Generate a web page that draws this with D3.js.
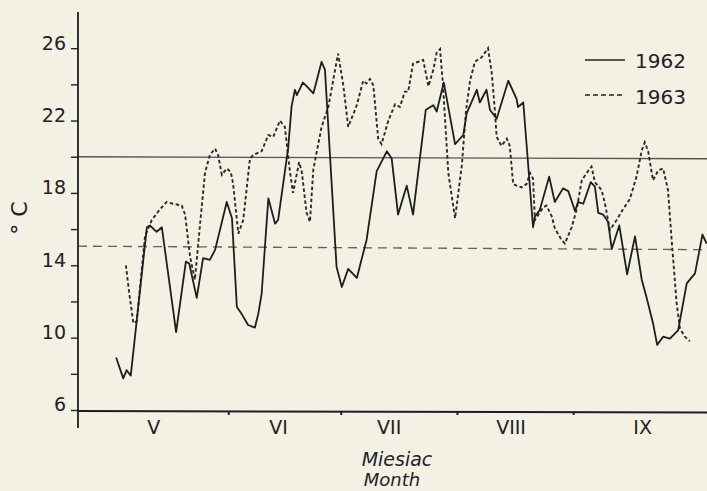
<!DOCTYPE html>
<html>
<head>
<meta charset="utf-8">
<script src="https://cdn.jsdelivr.net/npm/d3@7"></script>
<style>
  body { margin: 0; background: #f3f0e4; }
  svg { display: block; }
  text { font-family: "DejaVu Sans", sans-serif; fill: #222; }
</style>
</head>
<body>
<svg width="707" height="491"></svg>
<script>
// day 0 = 1 May; values in deg C
var days62 = [1.1,3.0,3.9,5.0,9.3,10.1,11.9,13.3,17.1,19.7,20.6,22.6,24.3,26.1,27.5,30.6,32.0,33.3,34.6,36.3,38.1,39.0,39.9,41.7,43.5,44.3,47.0,47.9,48.8,49.3,50.9,51.9,53.7,55.9,56.8,59.9,61.3,63.0,65.3,67.9,70.6,73.3,74.6,76.3,78.6,80.3,83.7,85.7,86.6,88.5,91.5,93.7,94.6,97.3,98.1,99.9,100.8,102.6,105.7,107.9,108.3,109.7,112.3,112.8,114.1,116.6,118.1,120.3,121.7,123.5,124.3,125.7,127.7,128.8,129.7,131.0,132.3,133.3,135.3,137.4,139.5,141.3,142.6,144.3,145.4,147.0,148.8,151.0,153.3,155.5,157.5,158.6];
var temp62 = [8.9,7.75,8.2,7.9,16.1,16.2,15.85,16.1,10.3,14.2,14.1,12.2,14.4,14.3,14.85,17.5,16.6,11.7,11.3,10.7,10.55,11.3,12.4,17.7,16.3,16.5,20.5,22.8,23.7,23.4,24.1,23.9,23.5,25.25,24.8,13.9,12.8,13.8,13.3,15.4,19.2,20.3,19.9,16.8,18.4,16.8,22.6,22.85,22.5,24.1,20.7,21.2,22.4,23.7,23.0,23.7,22.6,22.1,24.2,23.2,22.75,23.0,16.1,16.7,17.05,18.9,17.5,18.25,18.1,17.0,17.5,17.4,18.6,18.35,16.9,16.8,16.4,14.9,16.2,13.5,15.6,13.2,12.2,10.8,9.6,10.05,9.95,10.4,13.0,13.55,15.7,15.2];

var days63 = [3.7,4.6,5.7,6.6,8.8,10.6,12.8,14.6,16.3,18.6,19.5,20.8,22.1,23.5,24.8,26.1,27.5,28.3,29.3,30.6,31.7,32.3,33.7,35.0,36.8,37.7,39.9,41.7,43.0,44.8,46.1,47.5,48.3,49.9,50.6,51.9,52.8,53.7,55.9,57.7,60.3,61.7,63.0,65.3,67.0,67.9,68.8,69.7,71.0,71.9,73.7,75.5,76.8,78.1,79.0,80.3,81.7,83.0,84.4,85.7,86.6,87.5,88.3,89.7,91.5,93.3,94.4,95.5,96.8,98.6,100.3,101.3,102.1,102.6,103.9,105.3,106.1,107.0,107.9,109.3,110.6,111.5,112.3,112.8,115.0,115.9,117.3,118.1,119.9,120.8,122.6,123.9,125.3,126.6,127.9,128.8,130.6,131.5,132.3,132.8,134.6,136.3,138.1,139.9,141.3,142.1,143.0,144.3,145.7,147.0,148.3,149.2,150.6,151.5,152.8,154.1];
var temp63 = [14.0,12.45,10.8,10.9,15.6,16.5,17.1,17.5,17.4,17.3,16.8,14.5,13.2,16.3,19.1,20.1,20.45,20.1,19.0,19.35,19.15,18.5,15.75,16.5,19.9,20.1,20.3,21.2,21.1,22.0,21.65,19.1,18.0,19.7,19.2,16.9,16.4,19.3,21.65,22.75,25.7,23.95,21.65,22.85,24.2,24.05,24.3,23.95,21.0,20.7,22.0,22.9,22.75,23.6,23.6,25.15,25.25,25.35,23.9,24.8,25.75,25.95,23.9,19.1,16.6,19.5,22.5,24.2,25.25,25.5,26.0,24.6,22.6,21.1,20.6,21.0,20.6,18.5,18.4,18.3,18.5,19.1,18.8,16.5,17.2,17.3,16.7,16.05,15.4,15.2,16.1,17.05,18.7,19.1,19.45,18.6,18.15,17.4,16.5,15.95,16.5,17.1,17.65,18.9,20.35,20.8,20.3,18.7,19.25,19.35,18.15,15.6,11.9,10.5,10.05,9.8];

var meanLines = [20, 15];              // solid, dashed
var yTicks = [6,8,10,12,14,16,18,20,22,24,26];
var yLabels = [6,10,14,18,22,26];
var monthStarts = [31, 61, 92, 123];
var monthNames = ["V", "VI", "VII", "VIII", "IX"];
var monthLabelDays = [11, 44.3, 73.8, 106.3, 141.4];
var years = ["1962", "1963"];

var svg = d3.select("svg");

var x = d3.scaleLinear().domain([-9.07, 158.7]).range([78, 707]);
var y = d3.scaleLinear().domain([6, 28]).range([410, 12]);

// mean reference lines
svg.append("line")
    .attr("x1", 78).attr("x2", 707)
    .attr("y1", y(meanLines[0])).attr("y2", y(meanLines[0]) + 2)
    .attr("stroke", "#555").attr("stroke-width", 1.3);
svg.append("line")
    .attr("x1", 78).attr("x2", 707)
    .attr("y1", y(meanLines[1]) - 1).attr("y2", y(meanLines[1]) + 2.5)
    .attr("stroke", "#6a5f5a").attr("stroke-width", 1.3)
    .attr("stroke-dasharray", "9,6");

var line = d3.line()
    .x(function(d) { return x(d[0]); })
    .y(function(d) { return y(d[1]); });

svg.append("path")
    .datum(d3.zip(days63, temp63))
    .attr("fill", "none")
    .attr("stroke", "#2a2a2a")
    .attr("stroke-width", 1.9)
    .attr("stroke-dasharray", "3.5,2.5")
    .attr("d", line);

svg.append("path")
    .datum(d3.zip(days62, temp62))
    .attr("fill", "none")
    .attr("stroke", "#1e1e1e")
    .attr("stroke-width", 1.8)
    .attr("stroke-linejoin", "round")
    .attr("d", line);

// y axis
var yAxis = svg.append("g")
    .attr("transform", "translate(78,0)")
    .call(d3.axisLeft(y)
        .tickValues(yTicks)
        .tickSize(7)
        .tickFormat(function(d) { return yLabels.indexOf(d) >= 0 ? d : ""; }));
yAxis.select(".domain").remove();
yAxis.selectAll("line").attr("stroke", "#222").attr("stroke-width", 1.4);
yAxis.selectAll("text")
    .attr("x", -12).attr("dy", "0.05em")
    .style("font-size", "19px").attr("fill", "#222");

svg.append("line")
    .attr("x1", 78).attr("x2", 78).attr("y1", 12).attr("y2", 428)
    .attr("stroke", "#1e1e1e").attr("stroke-width", 1.8);

// x axis
svg.append("line")
    .attr("x1", 78).attr("x2", 707).attr("y1", 411).attr("y2", 412.5)
    .attr("stroke", "#1e1e1e").attr("stroke-width", 2);

var xAxis = svg.append("g")
    .attr("transform", "translate(0,412)")
    .call(d3.axisBottom(x).tickValues(monthStarts).tickSize(3).tickFormat(""));
xAxis.select(".domain").remove();
xAxis.selectAll("line").attr("stroke", "#222").attr("stroke-width", 2);

var xLab = svg.append("g")
    .attr("transform", "translate(0,412)")
    .call(d3.axisBottom(x).tickValues(monthLabelDays).tickSize(0)
        .tickFormat(function(d, i) { return monthNames[i]; }));
xLab.select(".domain").remove();
xLab.selectAll("text")
    .attr("y", 9)
    .style("font-size", "19px").attr("fill", "#222");

// axis titles
svg.append("text")
    .attr("transform", "translate(27,218) rotate(-90)")
    .attr("text-anchor", "middle")
    .style("font-size", "22px")
    .text("° C");

svg.append("text")
    .attr("x", 397).attr("y", 466)
    .attr("text-anchor", "middle")
    .style("font-size", "19px").style("font-style", "italic")
    .text("Miesiac");
svg.append("text")
    .attr("x", 392).attr("y", 486)
    .attr("text-anchor", "middle")
    .style("font-size", "18px").style("font-style", "italic")
    .text("Month");

// legend
var legend = svg.append("g");
legend.append("line")
    .attr("x1", 585).attr("x2", 625).attr("y1", 60).attr("y2", 60)
    .attr("stroke", "#222").attr("stroke-width", 1.6);
legend.append("line")
    .attr("x1", 585).attr("x2", 623).attr("y1", 95).attr("y2", 95)
    .attr("stroke", "#222").attr("stroke-width", 1.6)
    .attr("stroke-dasharray", "5,3");
legend.selectAll("text.yr")
    .data(years)
    .enter().append("text")
    .attr("class", "yr")
    .attr("x", 635)
    .attr("y", function(d, i) { return 68 + i * 36; })
    .style("font-size", "20px")
    .text(function(d) { return d; });
</script>
</body>
</html>
